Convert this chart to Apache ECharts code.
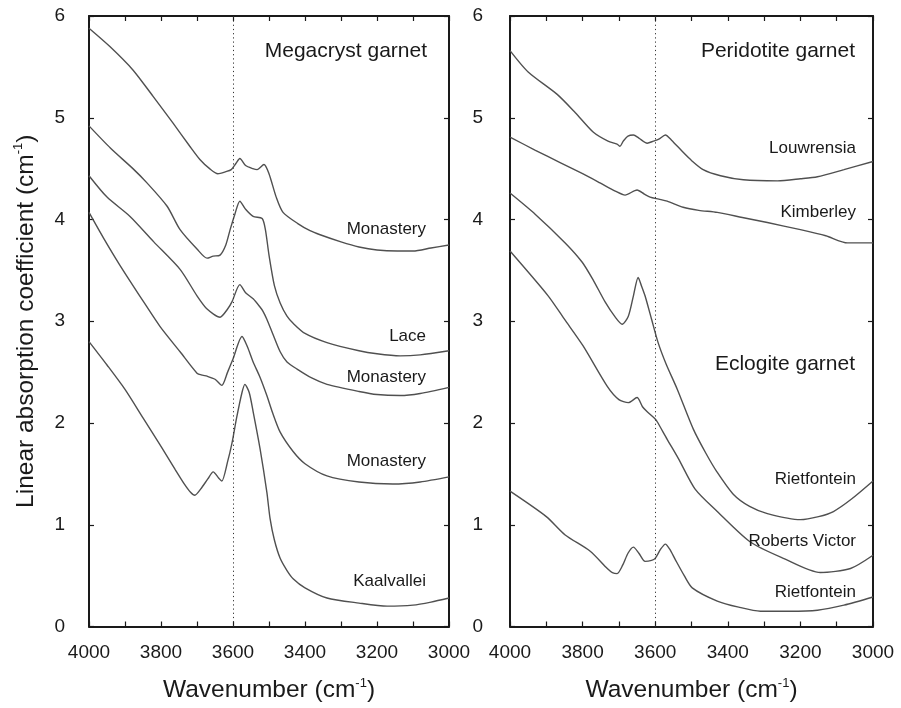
<!DOCTYPE html>
<html>
<head>
<meta charset="utf-8">
<script src="https://cdn.jsdelivr.net/npm/echarts@6/dist/echarts.min.js"></script>
<style>
  html, body { margin: 0; padding: 0; background: #fff; }
  #chart { width: 901px; height: 708px; }
</style>
</head>
<body>
<div id="chart"></div>
<script>
// IR absorption spectra of garnets, [wavenumber (cm-1), absorption coefficient (cm-1)]

// Megacryst garnet
const megaMonastery1 = [
  [4000, 5.88], [3942, 5.70], [3878, 5.47], [3822, 5.21], [3767, 4.95], [3720, 4.72],
  [3692, 4.59], [3665, 4.50], [3642, 4.45], [3620, 4.47], [3605, 4.49], [3592, 4.55],
  [3581, 4.60], [3565, 4.53], [3545, 4.50], [3533, 4.49], [3514, 4.54], [3500, 4.45],
  [3480, 4.22], [3461, 4.07], [3420, 3.96], [3386, 3.89], [3358, 3.85], [3300, 3.78],
  [3250, 3.73], [3200, 3.70], [3144, 3.69], [3100, 3.69], [3050, 3.72], [3000, 3.75]
];
const megaLace = [
  [4000, 4.92], [3940, 4.70], [3878, 4.50], [3839, 4.36], [3783, 4.13], [3747, 3.90],
  [3700, 3.71], [3672, 3.62], [3655, 3.64], [3636, 3.65], [3620, 3.75], [3608, 3.90],
  [3595, 4.05], [3581, 4.18], [3565, 4.10], [3544, 4.03], [3519, 4.01], [3510, 3.90],
  [3500, 3.65], [3485, 3.35], [3469, 3.18], [3450, 3.05], [3433, 2.98], [3400, 2.88],
  [3339, 2.79], [3250, 2.71], [3200, 2.68], [3136, 2.66], [3080, 2.67], [3000, 2.71]
];
const megaMonastery2 = [
  [4000, 4.43], [3950, 4.22], [3886, 4.03], [3820, 3.78], [3747, 3.51], [3700, 3.25],
  [3672, 3.12], [3636, 3.04], [3615, 3.12], [3603, 3.19], [3581, 3.36], [3565, 3.28],
  [3544, 3.22], [3525, 3.14], [3517, 3.10], [3506, 3.02], [3490, 2.88], [3469, 2.70],
  [3450, 2.60], [3422, 2.53], [3380, 2.44], [3339, 2.38], [3250, 2.31], [3200, 2.28],
  [3136, 2.27], [3080, 2.29], [3000, 2.35]
];
const megaMonastery3 = [
  [4000, 4.07], [3960, 3.82], [3914, 3.55], [3850, 3.20], [3803, 2.95], [3747, 2.70],
  [3700, 2.49], [3685, 2.47], [3672, 2.46], [3650, 2.43], [3631, 2.37], [3615, 2.50],
  [3600, 2.63], [3575, 2.85], [3560, 2.75], [3544, 2.60], [3525, 2.45], [3506, 2.27],
  [3490, 2.10], [3469, 1.91], [3433, 1.72], [3400, 1.60], [3339, 1.48], [3250, 1.42],
  [3156, 1.40], [3080, 1.42], [3000, 1.47]
];
const megaKaalvallei = [
  [4000, 2.80], [3950, 2.57], [3900, 2.33], [3850, 2.05], [3800, 1.77], [3760, 1.54],
  [3735, 1.40], [3718, 1.32], [3706, 1.29], [3690, 1.35], [3670, 1.45], [3655, 1.52],
  [3640, 1.46], [3631, 1.43], [3615, 1.62], [3603, 1.80], [3590, 2.05], [3575, 2.30],
  [3567, 2.38], [3555, 2.30], [3544, 2.11], [3525, 1.75], [3506, 1.32], [3497, 1.06],
  [3485, 0.85], [3469, 0.67], [3450, 0.55], [3433, 0.47], [3400, 0.38], [3339, 0.28],
  [3250, 0.23], [3172, 0.20], [3100, 0.21], [3050, 0.24], [3000, 0.28]
];

// Peridotite garnet
const periLouwrensia = [
  [4000, 5.66], [3950, 5.45], [3870, 5.23], [3820, 5.05], [3771, 4.86], [3730, 4.77],
  [3705, 4.74], [3697, 4.72], [3688, 4.77], [3675, 4.82], [3660, 4.83], [3645, 4.80],
  [3622, 4.75], [3605, 4.77], [3590, 4.79], [3572, 4.83], [3555, 4.78], [3523, 4.66],
  [3500, 4.58], [3468, 4.49], [3420, 4.43], [3357, 4.39], [3263, 4.38], [3200, 4.40],
  [3153, 4.42], [3080, 4.49], [3000, 4.57]
];
const periKimberley = [
  [4000, 4.81], [3930, 4.68], [3862, 4.56], [3800, 4.45], [3752, 4.36], [3710, 4.28],
  [3683, 4.24], [3650, 4.29], [3630, 4.25], [3614, 4.22], [3590, 4.20], [3567, 4.18],
  [3523, 4.12], [3480, 4.09], [3429, 4.07], [3360, 4.02], [3291, 3.97], [3200, 3.90],
  [3130, 3.84], [3070, 3.77], [3000, 3.77]
];

// Eclogite garnet
const eclRietfontein1 = [
  [4000, 4.26], [3930, 4.05], [3848, 3.77], [3801, 3.58], [3770, 3.40], [3738, 3.19],
  [3710, 3.04], [3691, 2.97], [3674, 3.05], [3660, 3.25], [3647, 3.43], [3638, 3.35],
  [3628, 3.25], [3610, 3.02], [3592, 2.79], [3570, 2.58], [3539, 2.33], [3495, 1.94],
  [3460, 1.70], [3430, 1.52], [3385, 1.30], [3340, 1.18], [3291, 1.11], [3200, 1.05],
  [3150, 1.08], [3109, 1.13], [3060, 1.25], [3000, 1.43]
];
const eclRobertsVictor = [
  [4000, 3.69], [3895, 3.25], [3850, 3.02], [3799, 2.76], [3732, 2.36], [3700, 2.23],
  [3674, 2.20], [3650, 2.25], [3635, 2.16], [3622, 2.11], [3600, 2.04], [3594, 2.01],
  [3567, 1.84], [3536, 1.65], [3490, 1.35], [3429, 1.13], [3338, 0.83], [3247, 0.67],
  [3145, 0.53], [3062, 0.57], [3000, 0.70]
];
const eclRietfontein2 = [
  [4000, 1.33], [3900, 1.08], [3848, 0.90], [3779, 0.74], [3732, 0.57], [3718, 0.53],
  [3705, 0.52], [3690, 0.60], [3675, 0.72], [3660, 0.78], [3645, 0.72], [3628, 0.64],
  [3610, 0.65], [3600, 0.67], [3585, 0.76], [3572, 0.81], [3560, 0.76], [3545, 0.66],
  [3520, 0.50], [3498, 0.38], [3429, 0.25], [3370, 0.19], [3310, 0.15], [3230, 0.15],
  [3153, 0.16], [3080, 0.21], [3000, 0.29]
];

// Axis ticks
const yTicks = [0, 1, 2, 3, 4, 5, 6];
const xTickStep = 200;
const referenceLine = 3600;

// Curve name tags: [panel, text, value level]
const curveTags = [
  [0, 'Monastery', 3.90], [0, 'Lace', 2.85], [0, 'Monastery', 2.45],
  [0, 'Monastery', 1.62], [0, 'Kaalvallei', 0.44],
  [1, 'Louwrensia', 4.70], [1, 'Kimberley', 4.07], [1, 'Rietfontein', 1.45],
  [1, 'Roberts Victor', 0.84], [1, 'Rietfontein', 0.34]
];
const panelTitles = [[0, 'Megacryst garnet', 5.65], [1, 'Peridotite garnet', 5.65], [1, 'Eclogite garnet', 2.58]];

const leftCurves = [megaMonastery1, megaLace, megaMonastery2, megaMonastery3, megaKaalvallei];
const rightCurves = [periLouwrensia, periKimberley, eclRietfontein1, eclRobertsVictor, eclRietfontein2];

const FONT = "'Liberation Sans', Arial, Helvetica, sans-serif";
const INK = '#1a1a1a';
const LINE = '#505050';

const grids = [
  { left: 89, right: 452, top: 16, bottom: 80 },
  { left: 510, right: 28, top: 16, bottom: 80 }
];

const axisTitle = {
  rich: {
    a: { fontFamily: FONT, fontSize: 24.5, color: INK, lineHeight: 28 },
    s: { fontFamily: FONT, fontSize: 13, color: INK, verticalAlign: 'top', lineHeight: 28, padding: [0, 0, 9, 0] }
  }
};

function xAxisFor(gridIndex, position) {
  const bottom = position === 'bottom';
  return {
    type: 'value', gridIndex, position, inverse: true,
    min: 3000, max: 4000, interval: xTickStep,
    axisLine: { show: true, onZero: false, lineStyle: { color: INK, width: 2 } },
    axisTick: { show: true, inside: true, length: 5, lineStyle: { color: INK, width: 1.2 } },
    minorTick: { show: true, splitNumber: 2, length: 5, lineStyle: { color: INK, width: 1.2 } },
    splitLine: { show: false }, minorSplitLine: { show: false },
    axisLabel: { show: bottom, fontFamily: FONT, fontSize: 19, color: INK, margin: 17, formatter: v => String(v) },
    name: bottom ? '{a|Wavenumber (cm}{s|-1}{a|)}' : '',
    nameLocation: 'middle', nameGap: 50,
    nameTextStyle: axisTitle
  };
}

function yAxisFor(gridIndex, position) {
  const left = position === 'left';
  return {
    type: 'value', gridIndex, position,
    min: yTicks[0], max: yTicks[yTicks.length - 1], interval: 1,
    axisLine: { show: true, onZero: false, lineStyle: { color: INK, width: 2 } },
    axisTick: { show: true, inside: true, length: 5, lineStyle: { color: INK, width: 1.2 } },
    splitLine: { show: false },
    axisLabel: { show: left, fontFamily: FONT, fontSize: 19, color: INK, margin: gridIndex === 0 ? 24 : 27, formatter: v => String(v) },
    name: (left && gridIndex === 0) ? '{a|Linear absorption coefficient (cm}{s|-1}{a|)}' : '',
    nameLocation: 'middle', nameGap: 49, nameRotate: 90,
    nameTextStyle: axisTitle
  };
}

function tagPoints(panel) {
  const small = curveTags.filter(t => t[0] === panel).map(t => ({
    coord: [3000, t[2]],
    label: { fontSize: 17, offset: [panel === 0 ? -23 : -17, 0] },
    value: t[1]
  }));
  const big = panelTitles.filter(t => t[0] === panel).map(t => ({
    coord: [3000, t[2]],
    label: { fontSize: 21, offset: [panel === 0 ? -22 : -18, 0] },
    value: t[1]
  }));
  return small.concat(big);
}

function curveSeries(data, panel, idx) {
  const s = {
    type: 'line', data, xAxisIndex: panel * 2, yAxisIndex: panel * 2,
    showSymbol: false, symbol: 'none', smooth: 0.25,
    lineStyle: { color: LINE, width: 1.4 },
    silent: true, animation: false, z: 3
  };
  if (idx === 0) {
    s.markLine = {
      silent: true, symbol: 'none', animation: false,
      label: { show: false },
      lineStyle: { type: [1.2, 3], color: '#333', width: 1 },
      data: [{ xAxis: referenceLine }]
    };
    s.markPoint = {
      symbol: 'circle', symbolSize: 0, animation: false, silent: true,
      label: {
        show: true, position: 'inside', align: 'right', verticalAlign: 'middle',
        fontFamily: FONT, color: INK, formatter: p => p.value
      },
      data: tagPoints(panel)
    };
  }
  return s;
}

const series = [];
leftCurves.forEach((d, i) => series.push(curveSeries(d, 0, i)));
rightCurves.forEach((d, i) => series.push(curveSeries(d, 1, i)));

const chart = echarts.init(document.getElementById('chart'), null, { renderer: 'canvas' });
chart.setOption({
  animation: false,
  backgroundColor: '#fff',
  grid: grids,
  xAxis: [xAxisFor(0, 'bottom'), xAxisFor(0, 'top'), xAxisFor(1, 'bottom'), xAxisFor(1, 'top')],
  yAxis: [yAxisFor(0, 'left'), yAxisFor(0, 'right'), yAxisFor(1, 'left'), yAxisFor(1, 'right')],
  series
});
</script>
</body>
</html>
